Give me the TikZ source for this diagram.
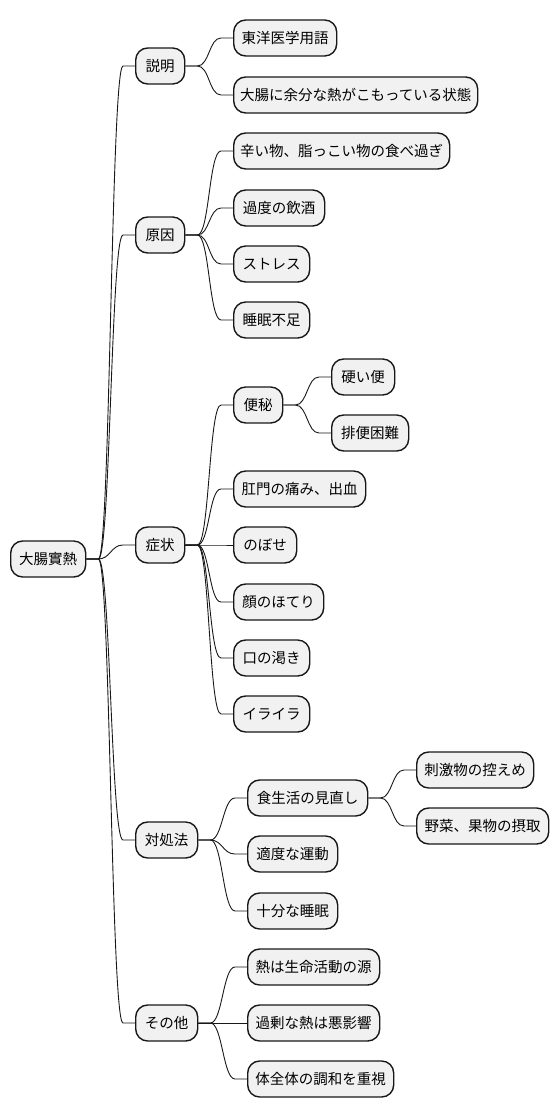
\documentclass[tikz,border=0pt]{standalone}
\usepackage{fontspec}
\setmainfont{Noto Sans CJK JP}
\usepackage{tikz}
\usetikzlibrary{positioning,calc}
\definecolor{boxfill}{HTML}{F1F1F1}
\definecolor{boxline}{HTML}{181818}

\tikzset{
  topic/.style={draw=boxline, fill=boxfill, line width=1.4pt, rounded corners=12pt,
    anchor=west, minimum height=36pt, inner xsep=0pt, inner ysep=0pt,
    font=\fontsize{14.5}{16}\selectfont, text=black},
  branch/.style={draw=boxline, line width=0.9pt}
}
% connector from parent (#1) to child (#2)
\newcommand{\linkto}[2]{%
  \draw[branch] (#1.east) -- ++(12,0) .. controls +(12,0) and +(-12,0) .. ($(#2.west)+(-12,0)$) -- (#2.west);}

\begin{document}
\begin{tikzpicture}[x=1pt, y=-1pt]
    \useasboundingbox (0,0) rectangle (558,1118);

    % racine
    \node[topic, minimum width=75] (root) at (10,559) {大腸實熱};

    % 説明
    \node[topic, minimum width=49] (expl) at (135,66) {説明};
    \node[topic, minimum width=103] (expl1) at (233,38) {東洋医学用語};
    \node[topic, minimum width=244] (expl2) at (233,95) {大腸に余分な熱がこもっている状態};

    % 原因
    \node[topic, minimum width=49] (cause) at (135,235) {原因};
    \node[topic, minimum width=216] (cause1) at (233,151) {辛い物、脂っこい物の食べ過ぎ};
    \node[topic, minimum width=91] (cause2) at (233,208) {過度の飲酒};
    \node[topic, minimum width=76] (cause3) at (233,264) {ストレス};
    \node[topic, minimum width=76] (cause4) at (233,320) {睡眠不足};

    % 症状
    \node[topic, minimum width=49] (symp) at (135,545) {症状};
    \node[topic, minimum width=49] (symp1) at (233,405) {便秘};
    \node[topic, minimum width=63] (symp1a) at (331,377) {硬い便};
    \node[topic, minimum width=77] (symp1b) at (331,433) {排便困難};
    \node[topic, minimum width=132] (symp2) at (233,489) {肛門の痛み、出血};
    \node[topic, minimum width=63] (symp3) at (233,545) {のぼせ};
    \node[topic, minimum width=90] (symp4) at (233,602) {顔のほてり};
    \node[topic, minimum width=76] (symp5) at (233,658) {口の渇き};
    \node[topic, minimum width=76] (symp6) at (233,714) {イライラ};

    % 対処法
    \node[topic, minimum width=62] (care) at (135,840) {対処法};
    \node[topic, minimum width=120] (care1) at (247,798) {食生活の見直し};
    \node[topic, minimum width=117] (care1a) at (416,770) {刺激物の控えめ};
    \node[topic, minimum width=132] (care1b) at (416,826) {野菜、果物の摂取};
    \node[topic, minimum width=90] (care2) at (247,854) {適度な運動};
    \node[topic, minimum width=90] (care3) at (247,911) {十分な睡眠};

    % その他
    \node[topic, minimum width=62] (misc) at (135,1023) {その他};
    \node[topic, minimum width=132] (misc1) at (247,967) {熱は生命活動の源};
    \node[topic, minimum width=132] (misc2) at (247,1023) {過剰な熱は悪影響};
    \node[topic, minimum width=146] (misc3) at (247,1079) {体全体の調和を重視};

    % liens
    \foreach \c in {expl,cause,symp,care,misc} {\linkto{root}{\c}}
    \foreach \c in {expl1,expl2} {\linkto{expl}{\c}}
    \foreach \c in {cause1,cause2,cause3,cause4} {\linkto{cause}{\c}}
    \foreach \c in {symp1,symp2,symp3,symp4,symp5,symp6} {\linkto{symp}{\c}}
    \foreach \c in {symp1a,symp1b} {\linkto{symp1}{\c}}
    \foreach \c in {care1,care2,care3} {\linkto{care}{\c}}
    \foreach \c in {care1a,care1b} {\linkto{care1}{\c}}
    \foreach \c in {misc1,misc2,misc3} {\linkto{misc}{\c}}
\end{tikzpicture}
\end{document}
